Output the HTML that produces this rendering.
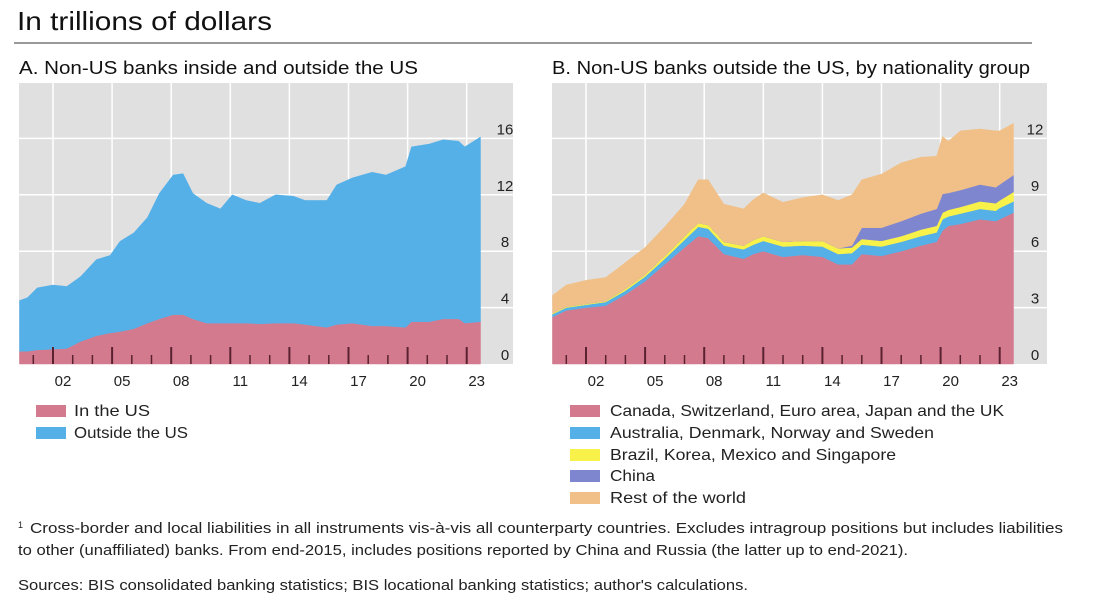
<!DOCTYPE html>
<html><head><meta charset="utf-8"><style>
body{margin:0;background:#fff;width:1100px;height:605px;overflow:hidden}
svg{display:block;font-family:"Liberation Sans",sans-serif}
</style></head><body>
<svg id="c" width="1100" height="605">
<text x="17" y="30" font-size="26" fill="#111" textLength="255" lengthAdjust="spacingAndGlyphs">In trillions of dollars</text>
<line x1="14" y1="43" x2="1032" y2="43" stroke="#333" stroke-width="1"/>
<text x="19" y="74" font-size="18" fill="#111" textLength="399" lengthAdjust="spacingAndGlyphs">A. Non-US banks inside and outside the US</text>
<text x="552" y="74" font-size="18" fill="#111" textLength="478" lengthAdjust="spacingAndGlyphs">B. Non-US banks outside the US, by nationality group</text>
<g id="pa"></g>
<g id="pb"></g>
<g font-size="16" fill="#222">
<rect x="36" y="405" width="30" height="12" fill="#d47a8e"/>
<text x="74" y="416" textLength="76" lengthAdjust="spacingAndGlyphs">In the US</text>
<rect x="36" y="427" width="30" height="12" fill="#56b0e8"/>
<text x="74" y="438" textLength="114" lengthAdjust="spacingAndGlyphs">Outside the US</text>
<rect x="570" y="405" width="30" height="12" fill="#d47a8e"/>
<text x="610" y="416" textLength="394" lengthAdjust="spacingAndGlyphs">Canada, Switzerland, Euro area, Japan and the UK</text>
<rect x="570" y="427" width="30" height="12" fill="#56b0e8"/>
<text x="610" y="438" textLength="324" lengthAdjust="spacingAndGlyphs">Australia, Denmark, Norway and Sweden</text>
<rect x="570" y="449" width="30" height="12" fill="#f7f14a"/>
<text x="610" y="460" textLength="286" lengthAdjust="spacingAndGlyphs">Brazil, Korea, Mexico and Singapore</text>
<rect x="570" y="470" width="30" height="12" fill="#7f86d0"/>
<text x="610" y="481" textLength="45" lengthAdjust="spacingAndGlyphs">China</text>
<rect x="570" y="492" width="30" height="12" fill="#f0c088"/>
<text x="610" y="503" textLength="136" lengthAdjust="spacingAndGlyphs">Rest of the world</text>
</g>
<g font-size="14.5" fill="#222">
<text x="18" y="528" font-size="9">1</text>
<text x="30" y="533" textLength="1033" lengthAdjust="spacingAndGlyphs">Cross-border and local liabilities in all instruments vis-à-vis all counterparty countries. Excludes intragroup positions but includes liabilities</text>
<text x="18" y="555" textLength="890" lengthAdjust="spacingAndGlyphs">to other (unaffiliated) banks. From end-2015, includes positions reported by China and Russia (the latter up to end-2021).</text>
<text x="18" y="590" textLength="730" lengthAdjust="spacingAndGlyphs">Sources: BIS consolidated banking statistics; BIS locational banking statistics; author's calculations.</text>
</g>
</svg>
<script>
const yearsA=[2000.3,2000.7,2001.2,2002,2002.7,2003.4,2004.2,2004.9,2005.4,2006.1,2006.8,2007.4,2008.1,2008.6,2009.1,2009.8,2010.5,2011.1,2011.8,2012.5,2013.3,2014.2,2014.8,2015.9,2016.4,2017.2,2018.2,2018.9,2019.9,2020.2,2021.1,2021.8,2022.6,2022.9,2023.7];
const inUS=[0.9,0.9,1.0,1.05,1.1,1.6,2.0,2.2,2.3,2.5,2.9,3.2,3.5,3.5,3.2,2.9,2.9,2.9,2.9,2.85,2.9,2.9,2.8,2.6,2.8,2.9,2.7,2.7,2.6,3.0,3.0,3.2,3.2,2.9,3.0];
const outsideUS=[3.6,3.8,4.4,4.55,4.4,4.6,5.4,5.5,6.4,6.8,7.5,8.9,9.9,10.0,8.9,8.5,8.1,9.1,8.7,8.55,9.1,9.0,8.8,9.0,9.9,10.3,10.9,10.7,11.4,12.4,12.6,12.7,12.6,12.5,13.1];
const ticksA=[0,4,8,12,16];
const yearsB=[2000.3,2001,2002,2003,2004,2005,2006,2007,2007.7,2008.2,2009,2010,2010.5,2011,2012,2013,2014,2014.8,2015.5,2016,2017,2018,2019,2019.8,2020.1,2020.4,2021,2022,2022.8,2023,2023.7];
const grpCanada=[2.5,2.85,3.0,3.1,3.7,4.4,5.3,6.2,6.8,6.7,5.85,5.6,5.85,6.0,5.7,5.8,5.7,5.3,5.3,5.85,5.75,6.0,6.3,6.5,7.1,7.35,7.45,7.7,7.6,7.7,8.05];
const grpAustralia=[0.15,0.15,0.15,0.2,0.2,0.25,0.3,0.4,0.5,0.5,0.45,0.5,0.5,0.55,0.55,0.5,0.55,0.55,0.6,0.5,0.5,0.5,0.5,0.5,0.6,0.5,0.55,0.55,0.55,0.6,0.6];
const grpBrazil=[0.05,0.05,0.05,0.05,0.1,0.1,0.15,0.2,0.2,0.2,0.2,0.2,0.25,0.25,0.25,0.25,0.3,0.3,0.3,0.3,0.3,0.3,0.35,0.35,0.35,0.35,0.35,0.4,0.4,0.4,0.5];
const grpChina=[0,0,0,0,0,0,0,0,0,0,0,0,0,0,0,0,0,0,0.1,0.6,0.7,0.8,0.85,0.9,1.0,0.9,0.9,0.9,0.85,0.85,0.9];
const grpRest=[0.95,1.15,1.25,1.25,1.4,1.45,1.55,1.7,2.3,2.4,2.0,1.95,2.15,2.3,2.1,2.3,2.45,2.55,2.7,2.55,2.85,3.1,3.0,2.8,3.05,2.75,3.15,2.95,3.0,2.85,2.75];
const ticksB=[0,3,6,9,12];
const yearLabels=["02","05","08","11","14","17","20","23"];
const NS="http://www.w3.org/2000/svg";
function mk(p,t,a){const e=document.createElementNS(NS,t);for(const k in a)e.setAttribute(k,a[k]);p.appendChild(e);return e;}
function panel(g,cfg,years,series,colors,names,ticks){
  const bg=mk(g,'rect',{x:cfg.left,y:83,width:cfg.right-cfg.left,height:281,fill:'#e0e0e0'});
  
  
  const y=v=>364-v*cfg.py;
  const x=yr=>cfg.x0+(yr-2002)*19.7;
  ticks.forEach(t=>{
    if(t>0){const l=mk(g,'line',{x1:cfg.left,x2:cfg.right,y1:y(t),y2:y(t),stroke:'#fff','stroke-width':1.5});
    
    }
  });
  for(let yr=2002;yr<=2023;yr+=3){
    const l=mk(g,'line',{x1:x(yr),x2:x(yr),y1:83,y2:364,stroke:'#fff','stroke-width':1.5});
    
    
  }
  let base=years.map(()=>0);
  series.forEach((s,i)=>{
    const top=base.map((b,j)=>b+s[j]);
    let d='M'+years.map((yr,j)=>x(yr)+','+y(top[j])).join('L');
    for(let j=years.length-1;j>=0;j--)d+='L'+x(years[j])+','+y(base[j]);
    const p=mk(g,'path',{d:d+'Z',fill:colors[i],stroke:colors[i],'stroke-width':0.5});
    
    
    base=top;
  });
  for(let yr=2001;yr<=2023;yr++){
    const major=(yr-2002)%3===0;
    const l=mk(g,'line',{x1:x(yr),x2:x(yr),y1:major?347:355,y2:364,stroke:'#5a2230','stroke-width':major?2:1.5});
    
    
  }
  yearLabels.forEach((lb,i)=>{
    const yr=2002+i*3;
    const t=mk(g,'text',{x:x(yr)+10,y:386,'font-size':15,'text-anchor':'middle',fill:'#222'});
    t.textContent=lb;
    
    
  });
  ticks.forEach(tk=>{
    const t=mk(g,'text',{x:cfg.lab,y:y(tk)-4,'font-size':15,'text-anchor':'middle',fill:'#222'});
    t.textContent=tk;
    
    
  });
}
panel(document.getElementById('pa'),{left:19,right:513,x0:53,py:14.1,lab:505},yearsA,[inUS,outsideUS],['#d47a8e','#56b0e8'],['in-us','outside-us'],ticksA);
panel(document.getElementById('pb'),{left:552,right:1047,x0:586,py:18.8,lab:1035},yearsB,[grpCanada,grpAustralia,grpBrazil,grpChina,grpRest],['#d47a8e','#56b0e8','#f7f14a','#7f86d0','#f0c088'],['canada-group','australia-group','brazil-group','china','rest-of-world'],ticksB);
</script>
</body></html>
